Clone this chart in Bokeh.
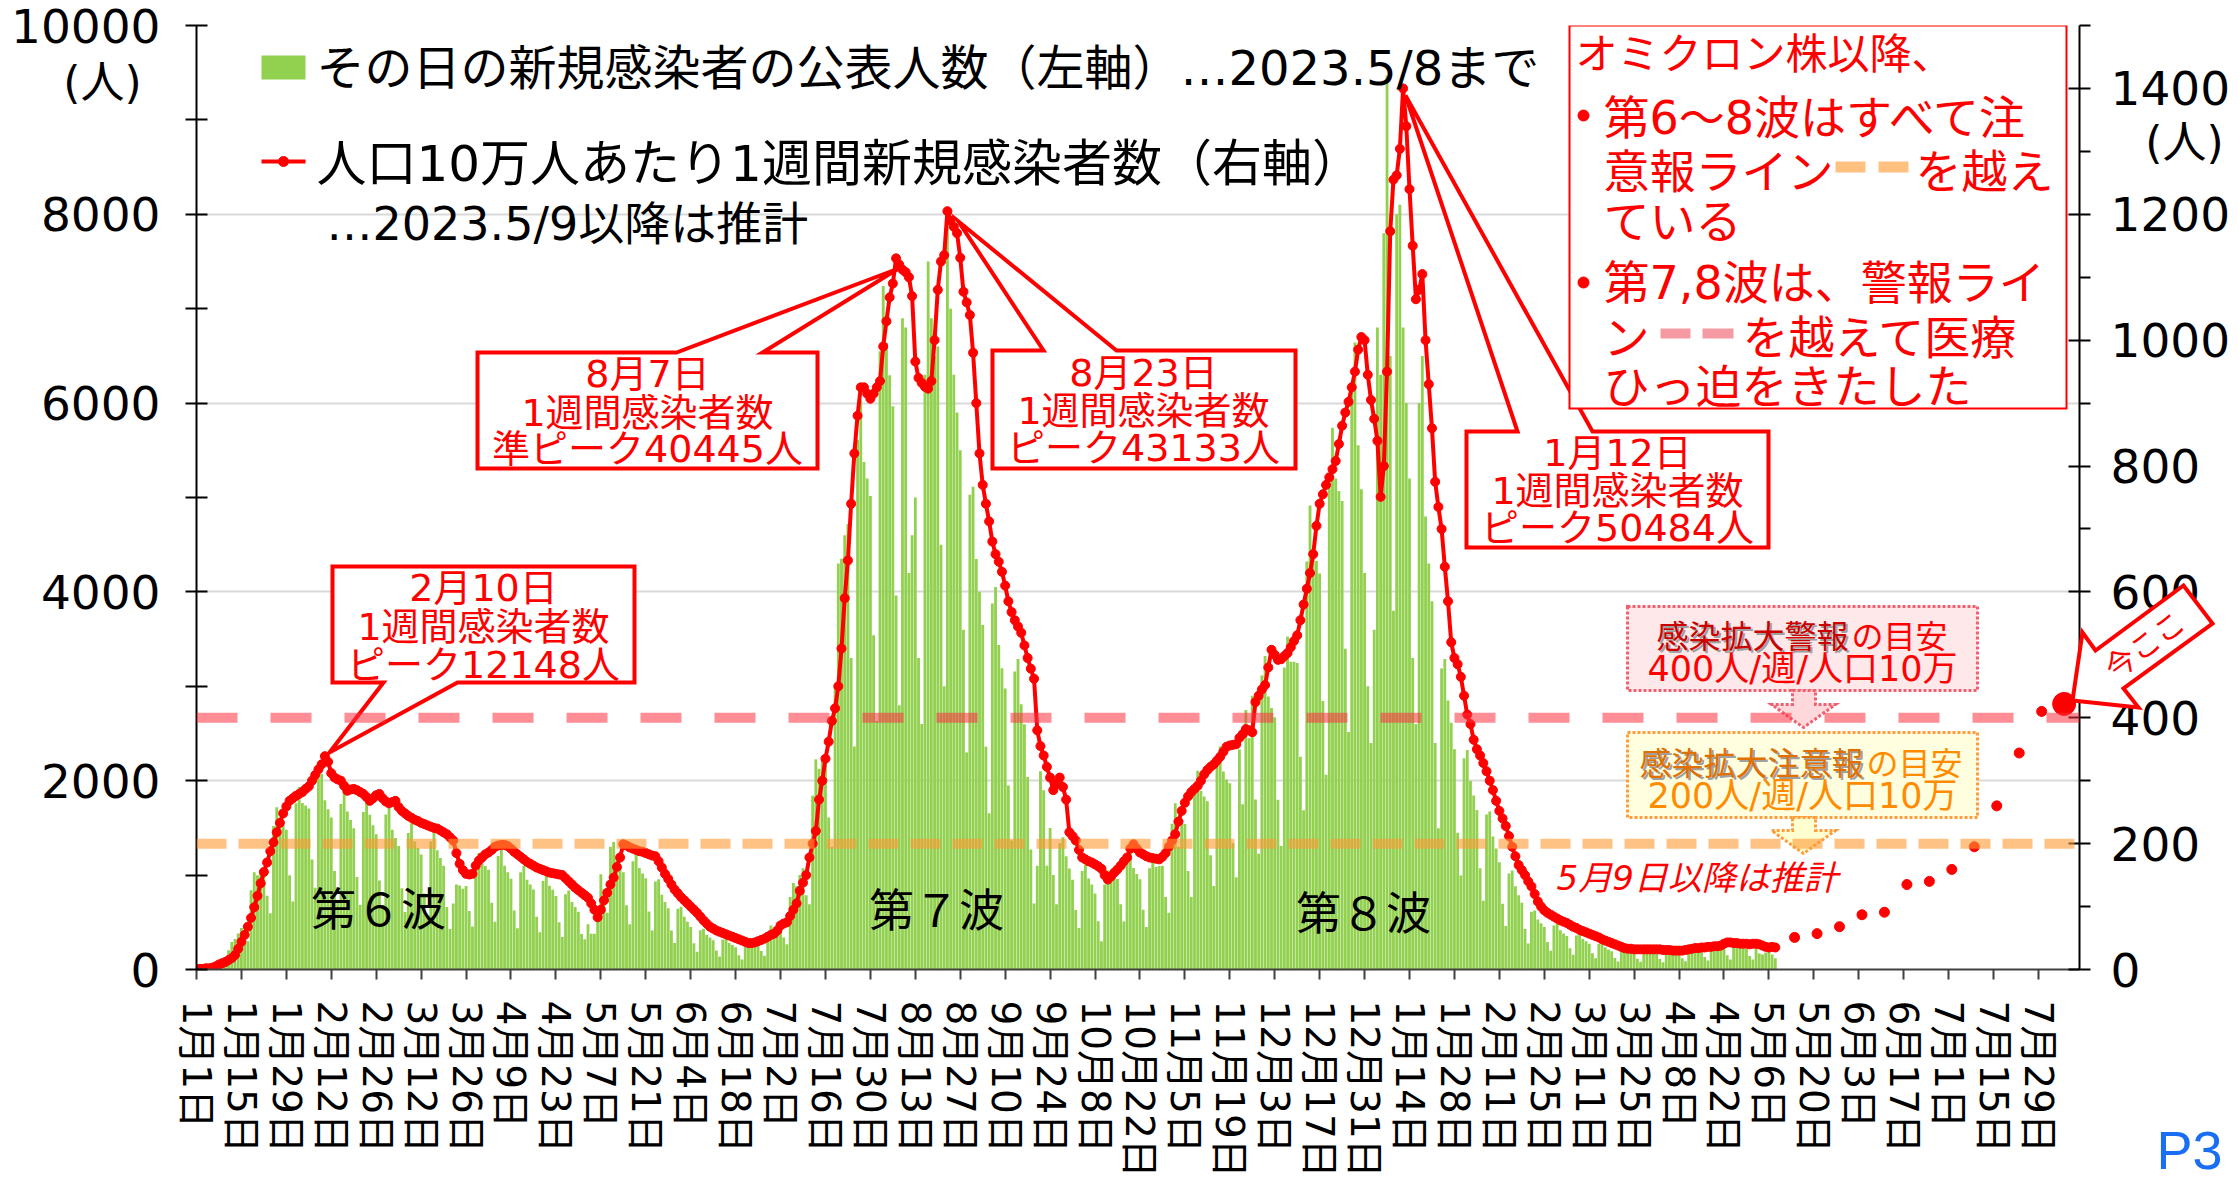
import math
import pandas as pd
from bokeh.plotting import figure
from bokeh.models import Range1d, LinearAxis, FixedTicker, Span
from bokeh.core.properties import value
from bokeh.embed import file_html
from bokeh.resources import INLINE

# ---------------- data ----------------
start_date = "2022-01-01"   # first bar, last bar = 2023-05-08

# daily newly announced cases (left axis)
daily_cases = [
    4, 6,
    8, 31, 53, 59, 67, 81, 64,
    59, 203, 292, 323, 382, 440, 354,
    299, 840, 1030, 999, 1057, 1084, 780,
    596, 1520, 1720, 1574, 1529, 1481, 998,
    720, 1760, 1933, 1763, 1737, 1706, 1166,
    866, 2023, 2072, 1793, 1697, 1610, 1044,
    726, 1754, 1907, 1675, 1585, 1497, 980,
    685, 1668, 1840, 1640, 1529, 1432, 944,
    680, 1643, 1713, 1481, 1394, 1309, 862,
    608, 1447, 1548, 1357, 1287, 1218, 805,
    572, 1355, 1448, 1264, 1180, 1100, 662,
    429, 700, 900, 890, 855, 885, 620,
    455, 1122, 1235, 1117, 1096, 1057, 708,
    506, 1202, 1275, 1099, 1029, 961, 626,
    437, 1030, 1096, 952, 900, 847, 558,
    394, 938, 1010, 888, 844, 778, 501,
    345, 797, 837, 716, 663, 612, 376,
    320, 480, 380, 380, 620, 1010, 850,
    600, 1300, 1350, 1180, 1100, 1030, 680,
    480, 1147, 1229, 1075, 1017, 966, 615,
    414, 932, 957, 793, 714, 649, 412,
    281, 644, 664, 558, 506, 450, 279,
    187, 416, 432, 365, 338, 311, 200,
    138, 319, 333, 282, 259, 236, 150,
    107, 264, 299, 276, 275, 279, 197,
    146, 380, 465, 429, 421, 456, 340,
    268, 767, 917, 882, 1001, 1073, 787,
    690, 1840, 2226, 2127, 2220, 2227, 1610,
    1300, 3000, 4300, 4350, 4600, 4720, 3300,
    2363, 5611, 6025, 5377, 5200, 5017, 3541,
    2632, 6549, 7241, 6640, 6295, 5966, 3963,
    2800, 6900, 6800, 4200, 4600, 5000, 3300,
    2600, 6300, 7500, 6900, 6500, 6600, 4500,
    3000, 7950, 7000, 6300, 5900, 5500, 3600,
    2300, 5028, 5115, 4348, 4002, 3649, 2361,
    1656, 3876, 4052, 3437, 3192, 2978, 1950,
    1367, 3158, 3288, 2809, 2597, 2039, 1270,
    700, 1100, 2100, 1900, 1100, 1500, 1000,
    690, 1340, 1400, 1200, 1070, 950, 630,
    440, 1043, 1109, 964, 900, 805, 512,
    300, 900, 1050, 1000, 990, 960, 690,
    508, 1177, 1235, 1075, 1012, 955, 633,
    450, 1073, 1190, 1087, 1096, 1100, 769,
    600, 1545, 1760, 1300, 1585, 1540, 1044,
    767, 1901, 2106, 1892, 1833, 1782, 1209,
    884, 2171, 2365, 2098, 2012, 1974, 1338,
    976, 2330, 1750, 2750, 2450, 2900, 1800,
    1226, 3115, 3322, 2891, 2771, 2672, 1799,
    1308, 3200, 3527, 3261, 3260, 3247, 2253,
    1686, 4323, 4915, 4437, 4328, 4196, 2844,
    2064, 5120, 5740, 5200, 5070, 4963, 3398,
    2516, 6163, 6643, 5553, 5088, 4200, 3000,
    2400, 3600, 6800, 6300, 7800, 9470, 6500,
    3800, 8000, 8100, 6800, 6000, 5200, 3300,
    2600, 6000, 6500, 4800, 4300, 3900, 2400,
    1495, 3189, 3288, 2850, 2614, 2334, 1449,
    997, 2238, 2325, 1998, 1844, 1690, 1073,
    728, 1643, 1674, 1410, 1282, 1137, 697,
    460, 1018, 1049, 882, 787, 708, 429,
    276, 613, 624, 529, 489, 450, 290,
    199, 466, 491, 417, 382, 354, 225,
    156, 361, 378, 323, 298, 274, 172,
    118, 270, 279, 235, 213, 193, 122,
    84, 203, 213, 189, 180, 172, 115,
    82, 197, 213, 189, 174, 166, 111,
    77, 184, 199, 176, 174, 172, 118,
    87, 209, 233, 206, 202, 193, 132,
    95, 233, 273, 253, 242, 226, 150,
    105, 252, 273, 235, 231, 220, 143,
    105, 240, 170, 160, 180, 230, 160,
    120,
]

# weekly new cases per 100k population (right axis), same days as daily_cases
weekly_per_100k = [
    0, 1, 1, 2, 2, 3, 5,
    8, 10, 12, 15, 18, 23, 33,
    44, 55, 68, 82, 99, 117, 137,
    155, 170, 188, 202, 218, 233, 248,
    259, 268, 272, 276, 279, 282, 287,
    291, 300, 309, 318, 326, 339, 330,
    312, 305, 302, 300, 292, 284, 286,
    287, 285, 282, 279, 274, 268, 272,
    277, 279, 272, 267, 264, 266, 268,
    258, 252, 248, 244, 241, 238, 236,
    233, 231, 229, 227, 225, 224, 221,
    218, 215, 210, 205, 185, 168, 158,
    152, 151, 152, 165, 173, 178, 183,
    186, 190, 195, 197, 198, 198, 196,
    192, 187, 183, 179, 175, 171, 168,
    165, 162, 160, 158, 156, 154, 153,
    152, 151, 150, 145, 140, 135, 130,
    126, 122, 118, 114, 105, 95, 83,
    95, 110, 122, 135, 146, 163, 178,
    199, 197, 194, 192, 190, 188, 187,
    185, 183, 181, 180, 172, 162, 152,
    144, 135, 127, 121, 115, 110, 105,
    100, 95, 90, 84, 78, 73, 68,
    65, 62, 60, 58, 56, 54, 52,
    50, 48, 46, 44, 42, 42, 43,
    45, 47, 49, 52, 55, 57, 62,
    70, 73, 75, 85, 95, 105, 125,
    138, 150, 178, 200, 220, 270, 300,
    335, 362, 395, 415, 450, 510, 590,
    650, 740, 820, 880, 925, 925, 915,
    907, 915, 925, 935, 990, 1030, 1068,
    1090, 1130, 1120, 1112, 1108, 1100, 1070,
    966, 940, 932, 926, 923, 935, 1000,
    1080, 1125, 1135, 1205, 1190, 1180, 1170,
    1131, 1077, 1060, 1040, 980, 900, 820,
    770, 740, 712, 680, 660, 648, 632,
    610, 585, 568, 555, 545, 535, 515,
    495, 478, 462, 380, 355, 340, 322,
    305, 285, 295, 305, 290, 270, 218,
    212, 205, 190, 178, 175, 172, 170,
    167, 164, 160, 150, 143, 148, 154,
    159, 165, 172, 178, 192, 199, 192,
    186, 183, 180, 178, 177, 176, 175,
    179, 185, 195, 205, 215, 235, 252,
    265, 275, 282, 287, 292, 300, 310,
    317, 322, 326, 332, 338, 346, 354,
    356, 357, 358, 368, 374, 382, 380,
    377, 425, 435, 445, 452, 480, 508,
    500, 492, 493, 498, 503, 512, 522,
    531, 555, 580, 605, 630, 660, 705,
    740, 755, 770, 782, 795, 808, 835,
    864, 885, 902, 925, 950, 985, 1005,
    1000, 945, 905, 875, 840, 751, 800,
    950, 1173, 1255, 1262, 1304, 1400, 1340,
    1240, 1150, 1065, 1080, 1105, 1000, 930,
    860, 775, 735, 700, 640, 585, 520,
    495, 485, 465, 435, 405, 390, 365,
    350, 340, 328, 315, 300, 285, 268,
    252, 240, 228, 212, 195, 180, 166,
    158, 150, 140, 132, 120, 108, 100,
    94, 90, 87, 84, 81, 78, 76,
    74, 71, 68, 66, 63, 61, 59,
    57, 55, 53, 51, 48, 46, 44,
    42, 40, 38, 36, 34, 33, 33,
    32, 32, 32, 32, 32, 32, 32,
    32, 32, 31, 31, 31, 30, 30,
    30, 30, 31, 32, 33, 34, 34,
    35, 35, 36, 36, 37, 37, 38,
    41, 43, 43, 42, 42, 41, 41,
    41, 40, 41, 41, 40, 38, 36,
    35, 36, 35,
]

# estimated values after 2023-05-09 (right axis)
est_dates = ["2023-05-14", "2023-05-21", "2023-05-28", "2023-06-04", "2023-06-11",
             "2023-06-18", "2023-06-25", "2023-07-02", "2023-07-09", "2023-07-16",
             "2023-07-23", "2023-07-30", "2023-08-06"]
est_per_100k = [51, 57, 68, 87, 91, 135, 140, 159, 195, 260, 344, 410, 422]

tick_labels = ["1月1日", "1月15日", "1月29日", "2月12日", "2月26日", "3月12日", "3月26日",
               "4月9日", "4月23日", "5月7日", "5月21日", "6月4日", "6月18日", "7月2日",
               "7月16日", "7月30日", "8月13日", "8月27日", "9月10日", "9月24日", "10月8日",
               "10月22日", "11月5日", "11月19日", "12月3日", "12月17日", "12月31日",
               "1月14日", "1月28日", "2月11日", "2月25日", "3月11日", "3月25日", "4月8日",
               "4月22日", "5月6日", "5月20日", "6月3日", "6月17日", "7月1日", "7月15日",
               "7月29日"]
tick_step_days = 14
left_ticks = [0, 2000, 4000, 6000, 8000, 10000]
left_minor = [1000, 3000, 5000, 7000, 9000]
right_ticks = [0, 200, 400, 600, 800, 1000, 1200, 1400]
right_minor = [100, 300, 500, 700, 900, 1100, 1300, 1500]
warning_level = 400
caution_level = 200

dates = pd.date_range(start_date, periods=len(daily_cases), freq="D")
t0 = dates[0]
days = [(d - t0).days for d in dates]
est_days = [(pd.Timestamp(d) - t0).days for d in est_dates]
tick_days = [tick_step_days * i for i in range(len(tick_labels))]

# ---------------- layout ----------------
PAGE_W, PAGE_H = 2239, 1180
FL, FT, FW, FH = 196, 25, 1883, 944
PX_PER_DAY = 3.209
F = "DejaVu Sans, Noto Sans CJK JP"
FJ = "Noto Sans CJK JP"


def ax(px):  # page pixel -> data x (days)
    return (px - FL) / PX_PER_DAY


def ay(py):  # page pixel -> data y (left axis)
    return (FT + FH - py) * 10000 / FH


fig = figure(width=PAGE_W, height=PAGE_H, title=None, output_backend="svg",
             toolbar_location=None,
             x_range=Range1d(0, FW / PX_PER_DAY), y_range=Range1d(0, 10000),
             min_border_left=FL, min_border_right=PAGE_W - FL - FW,
             min_border_top=FT, min_border_bottom=PAGE_H - FT - FH)
fig.extra_y_ranges = {"right": Range1d(0, 1500)}
fig.outline_line_color = None
fig.background_fill_color = "white"
fig.border_fill_color = "white"

xa = fig.xaxis[0]
xa.ticker = FixedTicker(ticks=tick_days, minor_ticks=[])
xa.major_label_overrides = {t: s for t, s in zip(tick_days, tick_labels)}
xa.major_label_orientation = -math.pi / 2
xa.major_label_text_font = F
xa.major_label_text_font_size = "39px"
xa.major_label_text_color = "black"
xa.major_label_standoff = 21
xa.major_tick_in = 0
xa.major_tick_out = 10
xa.minor_tick_in = 0
xa.minor_tick_out = 0
xa.axis_line_color = "#404040"
xa.axis_line_width = 2
xa.major_tick_line_color = "#404040"
xa.major_tick_line_width = 2

ya = fig.yaxis[0]
ya.ticker = FixedTicker(ticks=left_ticks, minor_ticks=left_minor)
ra = LinearAxis(y_range_name="right",
                ticker=FixedTicker(ticks=right_ticks, minor_ticks=right_minor))
fig.add_layout(ra, "right")
for a, so in ((ya, 25), (ra, 20)):
    a.major_label_text_font = "DejaVu Sans"
    a.major_label_text_font_size = "47px"
    a.major_label_text_color = "black"
    a.major_label_standoff = so
    a.major_tick_in = 11
    a.major_tick_out = 11
    a.minor_tick_in = 11 if a is ya else 0
    a.minor_tick_out = 11
    a.axis_line_color = "black"
    a.axis_line_width = 2
    a.major_tick_line_color = "black"
    a.major_tick_line_width = 2
    a.minor_tick_line_color = "black"
    a.minor_tick_line_width = 2

fig.xgrid.visible = False
fig.ygrid.ticker = FixedTicker(ticks=left_ticks[1:])
fig.ygrid.grid_line_color = "#d9d9d9"
fig.ygrid.grid_line_width = 2

# ---------------- marks ----------------
fig.vbar(x=days, top=daily_cases, width=0.88, fill_color="#92d050", line_color=None)

fig.add_layout(Span(location=warning_level, dimension="width", y_range_name="right",
                    line_color="#ff3040", line_alpha=0.55, line_width=10, line_dash="41 33"))
fig.add_layout(Span(location=caution_level, dimension="width", y_range_name="right",
                    line_color="#ff9933", line_alpha=0.6, line_width=10, line_dash="30 12"))

fig.line(days, weekly_per_100k, y_range_name="right", line_color="red", line_width=4)
fig.scatter(days, weekly_per_100k, y_range_name="right", size=9, color="red")
fig.scatter(est_days[:-1], est_per_100k[:-1], y_range_name="right", size=10, color="red")
fig.scatter(est_days[-1:], est_per_100k[-1:], y_range_name="right", size=23, color="red")


# ---------------- annotations (main figure) ----------------
def txt(x, y, s, size, color="red", align="left", font=F, style="normal", xo=0, yo=0):
    fig.text(x=[ax(x)], y=[ay(y)], text=[s], text_font=value(font),
             text_font_size=value(f"{size}px"), text_color=color, text_align=align,
             text_baseline="middle", text_font_style=style, x_offset=xo, y_offset=yo)


def poly(pts, fill, line, lw, dash="solid"):
    fig.patch(x=[ax(a) for a, b in pts], y=[ay(b) for a, b in pts], fill_color=fill,
              line_color=line, line_width=lw, line_dash=dash, line_join="miter")


def rect(x0, y0, x1, y1, color):
    fig.quad(left=[ax(x0)], right=[ax(x1)], top=[ay(y0)], bottom=[ay(y1)],
             fill_color=color, line_color=None)


# legend
rect(261, 55, 305, 79, "#92d050")
txt(316, 67, "その日の新規感染者の公表人数（左軸）…2023.5/8まで", 48, "black")
fig.line([ax(261), ax(305)], [ay(161), ay(161)], line_color="red", line_width=4)
fig.scatter([ax(283)], [ay(161)], size=10, color="red")
txt(316, 163, "人口10万人あたり1週間新規感染者数（右軸）", 50, "black")
txt(326, 223, "…2023.5/9以降は推計", 46, "black")

# peak callouts
callouts = [
    ([(332, 566), (634, 566), (634, 682), (457, 682), (329, 752), (383, 682), (332, 682)],
     483, [587, 626, 664], ["2月10日", "1週間感染者数", "ピーク12148人"]),
    ([(477, 352), (676, 352), (898, 268), (762, 352), (817, 352), (817, 468), (477, 468)],
     647, [373, 412, 448], ["8月7日", "1週間感染者数", "準ピーク40445人"]),
    ([(992, 350), (1043, 350), (958, 221), (1116, 350), (1295, 350), (1295, 468), (992, 468)],
     1143, [372, 410, 447], ["8月23日", "1週間感染者数", "ピーク43133人"]),
    ([(1466, 431), (1517, 431), (1405, 95), (1592, 431), (1768, 431), (1768, 547), (1466, 547)],
     1617, [452, 490, 527], ["1月12日", "1週間感染者数", "ピーク50484人"]),
]
for pts, cx, ys, lines in callouts:
    poly(pts, "white", "red", 4)
    for yy, s in zip(ys, lines):
        txt(cx, yy, s, 38, "red", align="center")

# top-right note box
poly([(1569, 25), (2066, 25), (2066, 408), (1569, 408)], "white", "red", 2)
txt(1575, 50, "オミクロン株以降、", 42, "red", font=FJ)
fig.scatter([ax(1583), ax(1583)], [ay(115), ay(282)], size=11, color="red")
txt(1603, 117, "第6～8波はすべて注", 46)
txt(1603, 167, "意報ライン", 46, font=FJ)
rect(1835, 161, 1865, 172, "#ffc080")
rect(1878, 161, 1908, 172, "#ffc080")
txt(1915, 167, "を越え", 46, font=FJ)
txt(1603, 217, "ている", 46, font=FJ)
txt(1603, 282, "第7,8波は、警報ライ", 46)
txt(1603, 333, "ン", 46, font=FJ)
rect(1660, 328, 1690, 338, "#f59aa2")
rect(1702, 328, 1733, 338, "#f59aa2")
txt(1742, 333, "を越えて医療", 46, font=FJ)
txt(1603, 382, "ひっ迫をきたした", 46, font=FJ)

# warning / caution boxes
poly([(1627, 606), (1977, 606), (1977, 690), (1627, 690)], "#ffe8ea", "#f06070", 3, "3 2")
poly([(1792, 690), (1815, 690), (1815, 704), (1835, 704), (1803, 727), (1771, 704), (1792, 704)],
     "#ffd8dc", "#f06070", 3, "3 2")
txt(1656, 633, "感染拡大警報", 32, "#a0a0a0", font=FJ, xo=2, yo=2)
txt(1656, 633, "感染拡大警報", 32, "#cc0000", font=FJ)
txt(1851, 633, "の目安", 32, "red", font=FJ)
txt(1802, 668, "400人/週/人口10万", 35, "red", align="center")

poly([(1627, 732), (1977, 732), (1977, 817), (1627, 817)], "#ffffe0", "#ff9d3b", 3, "3 2")
poly([(1792, 817), (1815, 817), (1815, 830), (1835, 830), (1803, 853), (1771, 830), (1792, 830)],
     "#ffffd0", "#ff9d3b", 3, "3 2")
txt(1639, 760, "感染拡大注意報", 32, "#a0a0a0", font=FJ, xo=2, yo=2)
txt(1639, 760, "感染拡大注意報", 32, "#e07000", font=FJ)
txt(1866, 760, "の目安", 32, "#ff8c00", font=FJ)
txt(1802, 795, "200人/週/人口10万", 35, "#ff8c00", align="center")

txt(1556, 877, "5月9日以降は推計", 34, "red", style="italic")

# wave labels
txt(378, 906, "第６波", 45, "black", align="center", font=FJ)
txt(936, 907, "第７波", 45, "black", align="center", font=FJ)
txt(1363, 910, "第８波", 45, "black", align="center", font=FJ)

# ---------------- overlay for items outside the plot frame ----------------
# a transparent layer over the whole page; its coordinates are page pixels (y downward)
ov = figure(width=PAGE_W, height=PAGE_H, title=None, output_backend="svg",
            toolbar_location=None, x_range=Range1d(0, PAGE_W), y_range=Range1d(PAGE_H, 0),
            x_axis_type=None, y_axis_type=None, min_border=0)
ov.outline_line_color = None
ov.background_fill_color = None
ov.border_fill_color = None
ov.styles = {"position": "absolute", "left": "0px", "top": "0px", "z-index": "10",
             "pointer-events": "none"}


def otxt(x, y, s, size, color, font=F, align="center", baseline="middle", angle=0.0):
    ov.text(x=[x], y=[y], text=[s], text_font=value(font), text_font_size=value(f"{size}px"),
            text_color=color, text_align=align, text_baseline=baseline, angle=angle)


otxt(102, 82, "(人)", 44, "black")
otxt(2184, 142, "(人)", 44, "black")
here = [(2072, 700), (2082, 632), (2095, 650), (2183, 585), (2212, 623), (2123, 688), (2138, 707)]
ov.patch(x=[a for a, b in here], y=[b for a, b in here], fill_color="white",
         line_color="red", line_width=4, line_join="miter")
otxt(2143, 643, "今ここ", 30, "red", font=FJ, angle=0.635)
otxt(2156, 1179, "P3", 54, "#1a6ef5", font="Liberation Sans", align="left", baseline="bottom")

p = [fig, ov]
open("out.html", "w").write(file_html(p, INLINE))
